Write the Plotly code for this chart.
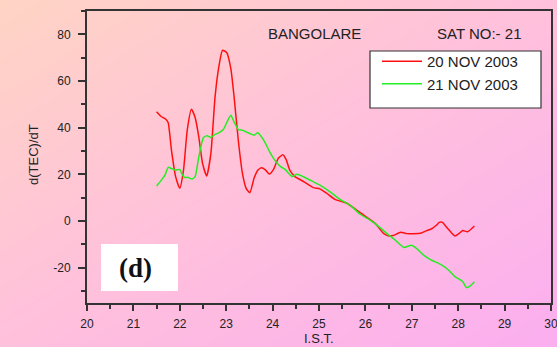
import plotly.graph_objects as go

# ---- data ----
red_x = [21.50, 21.59, 21.70, 21.75, 21.82, 21.91, 22.00, 22.08, 22.16, 22.25, 22.33, 22.41, 22.49,
         22.58, 22.67, 22.76, 22.84, 22.92, 23.01, 23.10, 23.17, 23.26, 23.35, 23.43, 23.51, 23.60,
         23.68, 23.76, 23.85, 23.93, 24.02, 24.12, 24.22, 24.29, 24.37, 24.48, 24.59, 24.73, 24.88,
         25.02, 25.17, 25.34, 25.60, 25.81, 26.03, 26.21, 26.39, 26.49, 26.60, 26.76, 26.89, 27.03,
         27.21, 27.32, 27.43, 27.54, 27.59, 27.66, 27.75, 27.84, 27.93, 28.02, 28.10, 28.20, 28.35]
red_y = [46.8, 44.9, 43.6, 42.1, 30.4, 19.0, 14.0, 21.8, 38.9, 47.9, 44.4, 36.0, 24.7,
         19.3, 29.0, 53.2, 66.0, 73.2, 72.2, 65.3, 53.2, 34.7, 20.4, 14.0, 12.1, 18.3,
         21.8, 22.8, 21.8, 20.1, 22.1, 26.8, 28.4, 26.4, 21.8, 19.0, 17.8, 16.1, 14.3,
         13.8, 11.8, 9.3, 7.6, 4.7, 1.6, -1.0, -5.3, -6.3, -6.2, -4.8, -5.4, -5.4,
         -5.1, -4.1, -3.3, -1.6, -0.6, -0.6, -2.7, -4.7, -6.4, -5.3, -4.1, -4.6, -2.1]

green_x = [21.50, 21.59, 21.68, 21.75, 21.82, 21.91, 22.00, 22.04, 22.10, 22.18, 22.26, 22.33, 22.41,
           22.51, 22.59, 22.67, 22.76, 22.84, 22.94, 23.01, 23.10, 23.17, 23.26, 23.35, 23.43, 23.51,
           23.60, 23.68, 23.76, 23.85, 23.94, 24.05, 24.16, 24.27, 24.42, 24.52, 24.66, 24.84, 25.02,
           25.24, 25.45, 25.67, 25.88, 26.10, 26.31, 26.46, 26.64, 26.83, 26.99, 27.10, 27.25, 27.39,
           27.64, 27.79, 27.93, 28.10, 28.17, 28.24, 28.35]
green_y = [15.0, 17.2, 19.7, 23.0, 22.5, 21.8, 22.1, 20.4, 18.7, 18.7, 18.0, 19.0, 27.5,
           35.8, 36.5, 35.8, 37.1, 37.8, 39.2, 42.1, 45.3, 42.5, 39.2, 38.9, 38.2, 37.5,
           36.8, 37.8, 36.1, 33.2, 29.5, 26.0, 23.5, 22.1, 19.0, 20.0, 19.0, 17.2, 15.4,
           12.5, 9.3, 6.8, 3.0, 0.4, -2.7, -5.3, -8.1, -11.3, -10.4, -11.7, -14.5, -16.4,
           -18.8, -21.0, -23.8, -26.0, -28.4, -28.1, -26.0]

series_names = ["20 NOV 2003", "21 NOV 2003"]
x_ticks = list(range(20, 31))
y_ticks = [-20, 0, 20, 40, 60, 80]

W, H = 557, 347
FONT = "Liberation Sans, Arial, sans-serif"
INK = "#222222"

fig = go.Figure()

# background gradient (full-page heatmap on its own hidden axes)
fig.add_trace(go.Heatmap(
    x=[0, 1], y=[0, 1], z=[[0.5, 1.0], [0.0, 0.5]],
    zsmooth="best", showscale=False, hoverinfo="skip",
    colorscale=[[0, "#FFD4C4"], [0.5, "#FFC0DC"], [1, "#FBAEF0"]],
    xaxis="x", yaxis="y", showlegend=False,
))

fig.add_trace(go.Scatter(x=red_x, y=red_y, mode="lines", name=series_names[0],
                         line=dict(color="#FF1010", width=1.5, shape="spline", smoothing=0.5),
                         xaxis="x2", yaxis="y2"))
fig.add_trace(go.Scatter(x=green_x, y=green_y, mode="lines", name=series_names[1],
                         line=dict(color="#22EE22", width=1.5, shape="spline", smoothing=0.5),
                         xaxis="x2", yaxis="y2"))

x0, x1 = 87 / W, 551 / W
y0, y1 = 1 - 302.7 / H, 1 - 11 / H


def ann(text, px, py, size, angle=0, family=FONT, color=INK):
    return dict(text=text, xref="paper", yref="paper", x=px / W, y=1 - py / H,
                xanchor="center", yanchor="middle", showarrow=False, textangle=angle,
                font=dict(size=size, color=color, family=family))


fig.update_layout(
    width=W, height=H,
    margin=dict(l=0, r=0, t=0, b=0, pad=0, autoexpand=False),
    paper_bgcolor="#FFC8D8",
    plot_bgcolor="rgba(0,0,0,0)",
    font=dict(family=FONT, color=INK, size=11),
    xaxis=dict(domain=[0, 1], range=[0, 1], visible=False, fixedrange=True, automargin=False),
    yaxis=dict(domain=[0, 1], range=[0, 1], visible=False, fixedrange=True, automargin=False),
    xaxis2=dict(domain=[x0, x1], range=[20, 30], anchor="y2", automargin=False,
                tickvals=x_ticks, ticktext=[str(v) for v in x_ticks],
                ticks="outside", ticklen=6, tickwidth=1.5, tickcolor="#333333",
                minor=dict(dtick=0.5, tick0=20, ticks="outside", ticklen=4, tickwidth=1.5, tickcolor="#333333"),
                showline=True, linewidth=2, linecolor="#333333", mirror=True,
                showgrid=False, zeroline=False, ticklabelstandoff=3,
                ticklabeloverflow="allow",
                tickfont=dict(size=12, color=INK)),
    yaxis2=dict(domain=[y0, y1], range=[-35, 90], anchor="x2", automargin=False,
                tickvals=y_ticks, ticktext=[str(v) for v in y_ticks],
                ticks="outside", ticklen=7, tickwidth=1.5, tickcolor="#333333",
                minor=dict(dtick=10, tick0=-30, ticks="outside", ticklen=4, tickwidth=1.5, tickcolor="#333333"),
                showline=True, linewidth=2, linecolor="#333333", mirror=True,
                showgrid=False, zeroline=False, ticklabelstandoff=5,
                ticklabeloverflow="allow",
                tickfont=dict(size=12, color=INK)),
    showlegend=True,
    legend=dict(x=377 / W, y=1 - 45 / H, xanchor="left", yanchor="top",
                bgcolor="rgba(0,0,0,0)", borderwidth=0,
                font=dict(size=15, color=INK, family=FONT),
                tracegroupgap=0, itemwidth=40),
    shapes=[
        dict(type="rect", xref="paper", yref="paper", layer="above",
             x0=370 / W, x1=541 / W, y0=1 - 108 / H, y1=1 - 51 / H,
             fillcolor="white", line=dict(color="#333333", width=1.2)),
        dict(type="rect", xref="paper", yref="paper", layer="above",
             x0=101 / W, x1=178 / W, y0=1 - 291 / H, y1=1 - 244 / H,
             fillcolor="white", line=dict(width=0)),
    ],
    annotations=[
        ann("BANGOLARE", 314, 33, 15),
        ann("SAT NO:- 21", 479, 33, 15),
        ann("<b>(d)</b>", 135, 268, 27, family="Liberation Serif, Times New Roman, serif", color="#111111"),
        ann("d(TEC)/dT", 33, 155, 13, angle=-90),
        ann("I.S.T.", 319, 338, 13),
    ],
)

fig.write_html("out.html")
